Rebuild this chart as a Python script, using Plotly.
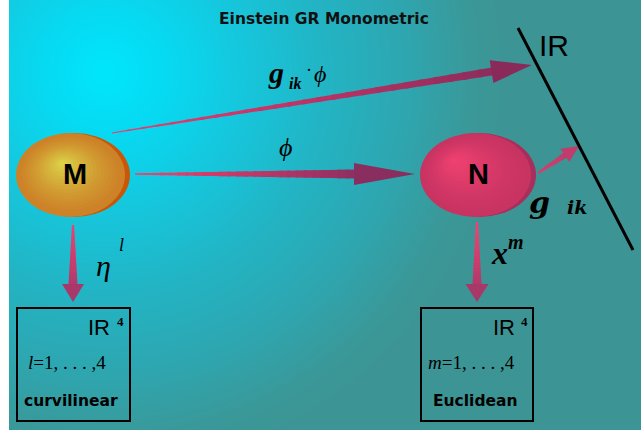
import numpy as np
import plotly.graph_objects as go

W, H = 643, 437

# ---------------- diagram content ----------------
TITLE = "Einstein GR Monometric"

NODE_LABELS = ["M", "N"]
NODE_CX = [72, 477]
NODE_CY = [175, 175]
NODE_RX = [56, 57]
NODE_RY = [42, 42]

BOX_X0 = [17, 421]
BOX_X1 = [130, 533]
BOX_Y0 = [308, 308]
BOX_Y1 = [421, 421]
BOX_SPACE = ["IR", "IR"]
BOX_INDEX = ["<i>l</i>=1, . . . ,4", "<i>m</i>=1, . . . ,4"]
BOX_NAMES = ["curvilinear", "Euclidean"]

# arrows: tail (x,y), tip (x,y), tail width, shaft width, head length, head half width
ARROW_NAMES = ["g_phi", "phi", "eta", "x", "g"]
ARROW_TAIL_X = [112, 135, 73, 477, 538]
ARROW_TAIL_Y = [133, 174, 225, 222, 173]
ARROW_TIP_X = [532, 415, 73, 477, 579]
ARROW_TIP_Y = [65, 174, 302, 302, 146]
ARROW_W0 = [1.0, 1.5, 2.0, 2.0, 2.0]
ARROW_W1 = [8.0, 9.0, 9.0, 9.0, 6.0]
ARROW_HL = [40, 60, 17, 17, 16]
ARROW_HW = [11.5, 11, 11, 11.5, 8]
ARROW_C0 = ["#ee3c6e", "#f4426f", "#ee4274", "#f24474", "#da3e6e"]
ARROW_C1 = ["#8e2c5c", "#8e3062", "#b03a6c", "#b03a6a", "#c03c6c"]
ARROW_CH = ["#8a2a5a", "#8a2e60", "#a8386a", "#a83868", "#c03c6c"]

R_LINE = [(518, 28), (633, 250)]


def hex2rgb(h):
    h = h.lstrip("#")
    return np.array([int(h[i:i + 2], 16) for i in (0, 2, 4)], dtype=float)


def mix(c0, c1, t):
    a, b = hex2rgb(c0), hex2rgb(c1)
    c = a + (b - a) * t
    return "rgb(%d,%d,%d)" % tuple(np.clip(np.round(c), 0, 255))


fig = go.Figure()

# ---------------- background radial gradient ----------------
gx = np.arange(11, 641, 4.0)
gy = np.arange(0, 431, 4.0)
XX, YY = np.meshgrid(gx, gy)
ZZ = np.sqrt((XX - 105) ** 2 + (YY - 72) ** 2)
fig.add_trace(go.Heatmap(
    x=gx, y=gy, z=ZZ, zmin=0, zmax=400, zsmooth="best", showscale=False,
    hoverinfo="skip",
    colorscale=[[0.0, "#00e6fc"], [0.15, "#06daf2"], [0.35, "#16c6dc"],
                [0.55, "#22b4c4"], [0.75, "#2ea6b0"], [0.92, "#3a9898"],
                [1.0, "#3c9594"]]))

shapes = []

# ---------------- nodes (ellipses with glow) ----------------
NODE_BASE = [["#c85808", "#cd8228"], ["#a82e5c", "#c83462"]]
NODE_HI = ["#dcd84a", "#f24272"]
NODE_HIPOS = [(62, 163), (453, 160)]
for k in range(2):
    cx, cy, rx, ry = NODE_CX[k], NODE_CY[k], NODE_RX[k], NODE_RY[k]
    shapes.append(dict(type="circle", xref="x", yref="y", x0=cx - rx + 2, x1=cx + rx + 2,
                       y0=cy - ry, y1=cy + ry, fillcolor=NODE_BASE[k][0],
                       line=dict(width=0), layer="above"))
    shapes.append(dict(type="circle", xref="x", yref="y", x0=cx - rx, x1=cx + rx - 3,
                       y0=cy - ry, y1=cy + ry, fillcolor=NODE_BASE[k][1],
                       line=dict(width=0), layer="above"))
    hx, hy = NODE_HIPOS[k]
    n = 16
    for i in range(1, n):
        t = i / n
        s = 1 - t
        ccx = cx - 1.5 + (hx - cx + 1.5) * t
        ccy = cy + (hy - cy) * t
        shapes.append(dict(type="circle", xref="x", yref="y",
                           x0=ccx - (rx - 2) * s, x1=ccx + (rx - 2) * s,
                           y0=ccy - (ry - 1) * s, y1=ccy + (ry - 1) * s,
                           fillcolor=mix(NODE_BASE[k][1], NODE_HI[k], t ** 1.3),
                           line=dict(width=0), layer="above"))

# ---------------- arrows ----------------
for a in range(len(ARROW_NAMES)):
    x0, y0, x1, y1 = ARROW_TAIL_X[a], ARROW_TAIL_Y[a], ARROW_TIP_X[a], ARROW_TIP_Y[a]
    L = np.hypot(x1 - x0, y1 - y0)
    ux, uy = (x1 - x0) / L, (y1 - y0) / L
    px, py = -uy, ux
    hl, hw = ARROW_HL[a], ARROW_HW[a]
    bx, by = x1 - ux * hl, y1 - uy * hl
    w0, w1 = ARROW_W0[a], ARROW_W1[a]
    n = 26
    for i in range(n):
        t0 = i / n
        t1 = min((i + 1.3) / n, 1.0)
        ax0, ay0 = x0 + (bx - x0) * t0, y0 + (by - y0) * t0
        ax1, ay1 = x0 + (bx - x0) * t1, y0 + (by - y0) * t1
        wa = (w0 + (w1 - w0) * t0) / 2
        wb = (w0 + (w1 - w0) * t1) / 2
        pts = [(ax0 + px * wa, ay0 + py * wa), (ax1 + px * wb, ay1 + py * wb),
               (ax1 - px * wb, ay1 - py * wb), (ax0 - px * wa, ay0 - py * wa)]
        path = "M " + " L ".join("%.2f,%.2f" % p for p in pts) + " Z"
        shapes.append(dict(type="path", xref="x", yref="y", path=path,
                           fillcolor=mix(ARROW_C0[a], ARROW_C1[a], (t0 + t1) / 2),
                           line=dict(width=0), layer="above"))
    pts = [(bx - ux + px * hw, by - uy + py * hw), (x1, y1), (bx - ux - px * hw, by - uy - py * hw)]
    path = "M " + " L ".join("%.2f,%.2f" % p for p in pts) + " Z"
    shapes.append(dict(type="path", xref="x", yref="y", path=path,
                       fillcolor=ARROW_CH[a], line=dict(width=0), layer="above"))

# ---------------- R line and boxes ----------------
shapes.append(dict(type="line", xref="x", yref="y", x0=R_LINE[0][0], y0=R_LINE[0][1],
                   x1=R_LINE[1][0], y1=R_LINE[1][1], line=dict(color="black", width=3),
                   layer="above"))
for k in range(2):
    shapes.append(dict(type="rect", xref="x", yref="y", x0=BOX_X0[k], x1=BOX_X1[k],
                       y0=BOX_Y0[k], y1=BOX_Y1[k], line=dict(color="black", width=2),
                       fillcolor="rgba(0,0,0,0)", layer="above"))

# ---------------- text ----------------
ann = []


def txt(x, y, s, size, family, color="black", xa="center", ya="middle"):
    ann.append(dict(x=x, y=y, xref="x", yref="y", text=s, showarrow=False,
                    xanchor=xa, yanchor=ya,
                    font=dict(size=size, family=family, color=color)))


SANS = "Liberation Sans, Arial, sans-serif"
SERIF = "Liberation Serif, Times New Roman, serif"
DV = "DejaVu Sans, Verdana, sans-serif"

txt(324, 19, "<b>%s</b>" % TITLE, 15.5, DV, "#111111")
for k in range(2):
    txt(NODE_CX[k] + (3 if k == 0 else 1), NODE_CY[k] - 1, "<b>%s</b>" % NODE_LABELS[k], 29, SANS)

# R label
txt(554, 45, "IR", 30, SANS)

# box contents
BOX_IR_X = [99, 504]
BOX_4_X = [120, 524]
BOX_IDX_X = [67, 471]
BOX_NAME_X = [71, 475]
for k in range(2):
    txt(BOX_IR_X[k], 327, BOX_SPACE[k], 22, SANS)
    txt(BOX_4_X[k], 321, "<b>4</b>", 13, SERIF)
    txt(BOX_IDX_X[k], 362, BOX_INDEX[k], 19, SERIF)
    txt(BOX_NAME_X[k], 401, "<b>%s</b>" % BOX_NAMES[k], 15.5, DV)

# arrow labels
txt(276, 72, "<b><i>g</i></b>", 30, SERIF)
txt(295, 83, "<b><i>ik</i></b>", 16, SERIF)
txt(309, 70, "·", 18, SERIF)
txt(320, 74, "<i>ϕ</i>", 24, SERIF)

txt(285, 147, "<i>ϕ</i>", 26, SERIF)

txt(103, 265, "<i>η</i>", 30, SERIF)
txt(121, 245, "<i>l</i>", 18, SERIF)

txt(499, 253, "<b><i>x</i></b>", 32, SERIF)
txt(516, 242, "<b><i>m</i></b>", 20, SERIF)

txt(539, 202, "<b><i>g</i></b>", 30, "DejaVu Serif, serif")
txt(577, 207, "<b><i>ik</i></b>", 19, "DejaVu Serif, serif")

fig.update_layout(
    width=W, height=H, margin=dict(l=0, r=0, t=0, b=0),
    paper_bgcolor="white", plot_bgcolor="white",
    xaxis=dict(range=[0, W], visible=False, fixedrange=True),
    yaxis=dict(range=[H, 0], visible=False, fixedrange=True),
    shapes=shapes, annotations=ann, showlegend=False,
)

fig.write_html("out.html", config={"displayModeBar": False},
               post_script="document.body.style.margin='0';document.body.style.overflow='hidden';")
